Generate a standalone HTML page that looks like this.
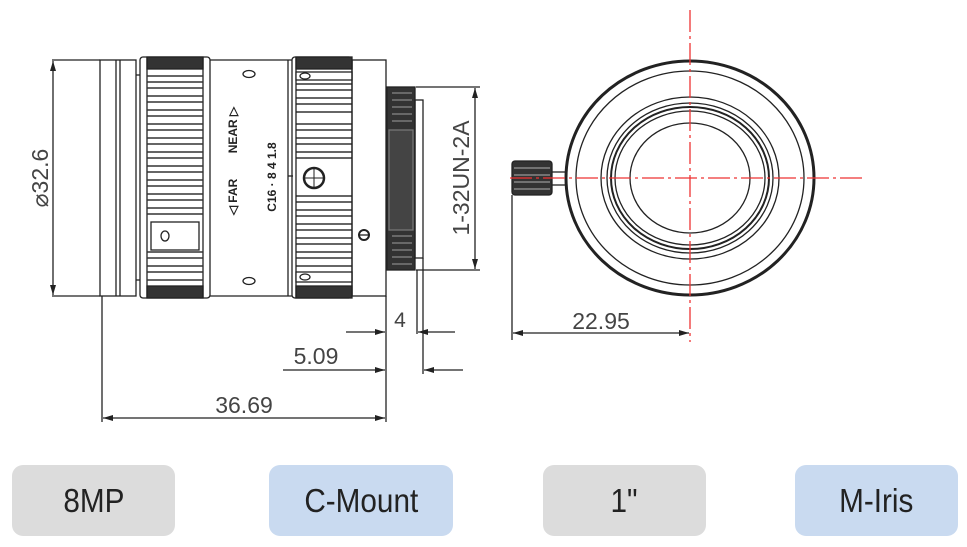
<!DOCTYPE html>
<html><head><meta charset="utf-8"><style>
html,body{margin:0;padding:0;background:#fff;width:967px;height:547px;overflow:hidden}
.b{position:absolute;top:465px;height:71px;border-radius:11px;font-family:"Liberation Sans",sans-serif;font-size:33px;color:#222;display:flex;align-items:center;justify-content:center}
.b span{display:inline-block;transform:scaleX(0.9)}
</style></head><body>
<svg width="967" height="547" style="position:absolute;left:0;top:0" xmlns="http://www.w3.org/2000/svg">
<defs><marker id="a" markerWidth="10" markerHeight="6" refX="10" refY="3" orient="auto-start-reverse" markerUnits="userSpaceOnUse"><path d="M0,0L10,3L0,6z" fill="#222"/></marker></defs>
<g stroke="#222" fill="none" stroke-width="1.3">
<rect x="100" y="60" width="36" height="236"/>
<line x1="116" y1="60" x2="116" y2="296"/><line x1="120" y1="60" x2="120" y2="296"/>
<line x1="136" y1="75" x2="140" y2="75"/><line x1="136" y1="280" x2="140" y2="280"/>
<rect x="140" y="57" width="70" height="241" rx="3"/>
<rect x="147" y="57" width="56" height="12" fill="#333"/><rect x="147" y="286" width="56" height="12" fill="#333"/>
<line x1="147" y1="57" x2="147" y2="298"/><line x1="203" y1="57" x2="203" y2="298"/>
</g>
<g stroke="#333" stroke-width="1.6">
<path d="M147 76H203M147 82H203M147 88H203M147 96H203M147 102H203M147 110H203M147 116H203M147 124H203M147 130H203M147 138H203M147 144H203M147 152H203M147 158H203M147 166H203M147 172H203M147 180H203M147 186H203M147 194H203M147 200H203M147 208H203M147 214H203M147 252H203M147 258H203M147 266H203M147 272H203M147 280H203"/>
<path d="M296 84H352M296 90H352M296 98H352M296 104H352M296 112H352M296 124H352M296 130H352M296 138H352M296 144H352M296 152H352M296 158H352M296 196H352M296 202H352M296 210H352M296 216H352M296 224H352M296 230H352M296 238H352M296 244H352M296 252H352M296 258H352M296 266H352"/>
</g>
<g stroke="#222" fill="none" stroke-width="1.3">
<rect x="151" y="222" width="48" height="28" fill="#fff"/>
<ellipse cx="165" cy="236" rx="4" ry="5"/>
<line x1="210" y1="60" x2="292" y2="60"/><line x1="210" y1="296" x2="292" y2="296"/>
<line x1="288" y1="60" x2="288" y2="296"/>
<ellipse cx="249" cy="74" rx="6" ry="3.5"/><ellipse cx="249" cy="281" rx="6" ry="3.5"/>
<line x1="288" y1="176" x2="293" y2="176"/>
<rect x="292" y="57" width="60" height="241" rx="3"/>
<rect x="296" y="57" width="56" height="12" fill="#333"/><rect x="296" y="286" width="56" height="12" fill="#333"/>
<line x1="296" y1="57" x2="296" y2="298"/>
<rect x="296" y="72" width="56" height="8" fill="#fff"/><rect x="296" y="272" width="56" height="10" fill="#fff"/>
<ellipse cx="305" cy="76" rx="5" ry="3"/><ellipse cx="305" cy="277" rx="5" ry="3"/>
<circle cx="314" cy="178" r="10" fill="#fff" stroke-width="2.5"/>
<path d="M304 178H324M314 168V188" stroke-width="1"/>
<rect x="352" y="60" width="34" height="236"/>
<circle cx="364" cy="235" r="5" stroke-width="2"/><line x1="359" y1="235" x2="369" y2="235"/>
<rect x="387" y="87" width="28" height="183" fill="#333"/>
<path d="M392 93H412M392 100H412M392 107H412M392 114H412M392 121H412M392 236H412M392 243H412M392 250H412M392 257H412M392 264H412" stroke="#888"/>
<rect x="389" y="130" width="24" height="100" fill="#444" stroke="#777"/>
<rect x="415" y="100" width="8" height="158"/>
<line x1="52" y1="60" x2="100" y2="60"/><line x1="52" y1="296" x2="100" y2="296"/>
<line x1="53" y1="61" x2="53" y2="295" marker-start="url(#a)" marker-end="url(#a)"/>
<line x1="416" y1="87" x2="480" y2="87"/><line x1="416" y1="270" x2="480" y2="270"/>
<line x1="475" y1="88" x2="475" y2="269" marker-start="url(#a)" marker-end="url(#a)"/>
<line x1="102" y1="296" x2="102" y2="422"/>
<line x1="386" y1="296" x2="386" y2="422"/>
<line x1="417" y1="270" x2="417" y2="334"/><line x1="423" y1="258" x2="423" y2="374"/>
<line x1="346" y1="332" x2="385" y2="332" marker-end="url(#a)"/>
<line x1="455" y1="332" x2="418" y2="332" marker-end="url(#a)"/>
<line x1="283" y1="370" x2="385" y2="370" marker-end="url(#a)"/>
<line x1="463" y1="370" x2="424" y2="370" marker-end="url(#a)"/>
<line x1="103" y1="418" x2="385" y2="418" marker-start="url(#a)" marker-end="url(#a)"/>
<ellipse cx="690" cy="178" rx="124" ry="117" stroke-width="3"/>
<ellipse cx="690" cy="178" rx="114" ry="107"/>
<ellipse cx="690" cy="178" rx="89" ry="81"/>
<ellipse cx="690" cy="178" rx="83" ry="75"/>
<ellipse cx="690" cy="178" rx="79" ry="71" stroke-width="2"/>
<ellipse cx="690" cy="178" rx="75" ry="67"/>
<ellipse cx="690" cy="178" rx="60" ry="55"/>
<rect x="512" y="161" width="40" height="34" rx="3" fill="#333"/>
<path d="M514 168H550M514 175H550M514 182H550M514 189H550" stroke="#999"/>
<line x1="552" y1="172" x2="566" y2="172"/><line x1="552" y1="185" x2="566" y2="185"/>
<line x1="512" y1="195" x2="512" y2="340"/>
<line x1="513" y1="333" x2="689" y2="333" marker-start="url(#a)" marker-end="url(#a)"/>
</g>
<g stroke="#e33" stroke-width="1.3" stroke-dasharray="22,4,3,4">
<line x1="690" y1="10" x2="690" y2="342"/>
<line x1="510" y1="178" x2="866" y2="178"/>
</g>
<g font-family="Liberation Sans,sans-serif" fill="#444">
<text font-size="23" transform="translate(48,178) rotate(-90)" text-anchor="middle">⌀32.6</text>
<text font-size="23" transform="translate(469,178) rotate(-90)" text-anchor="middle">1-32UN-2A</text>
<text x="400" y="327" font-size="21" text-anchor="middle">4</text>
<text x="316" y="364" font-size="23" text-anchor="middle">5.09</text>
<text x="244" y="413" font-size="23" text-anchor="middle">36.69</text>
<text x="601" y="329" font-size="23" text-anchor="middle">22.95</text>
<g font-size="12" font-weight="bold" fill="#222">
<text transform="translate(237,197) rotate(-90)" text-anchor="middle">◁ FAR</text>
<text transform="translate(237,130) rotate(-90)" text-anchor="middle">NEAR ▷</text>
<text transform="translate(276,177) rotate(-90)" text-anchor="middle">C16 · 8 4 1.8</text>
</g>
</g>
</svg>
<div class="b" style="left:12px;width:163px;background:#dcdcdc"><span>8MP</span></div>
<div class="b" style="left:269px;width:184px;background:#c9daf0"><span>C-Mount</span></div>
<div class="b" style="left:543px;width:163px;background:#dcdcdc"><span>1"</span></div>
<div class="b" style="left:795px;width:163px;background:#c9daf0"><span>M-Iris</span></div>
</body></html>
